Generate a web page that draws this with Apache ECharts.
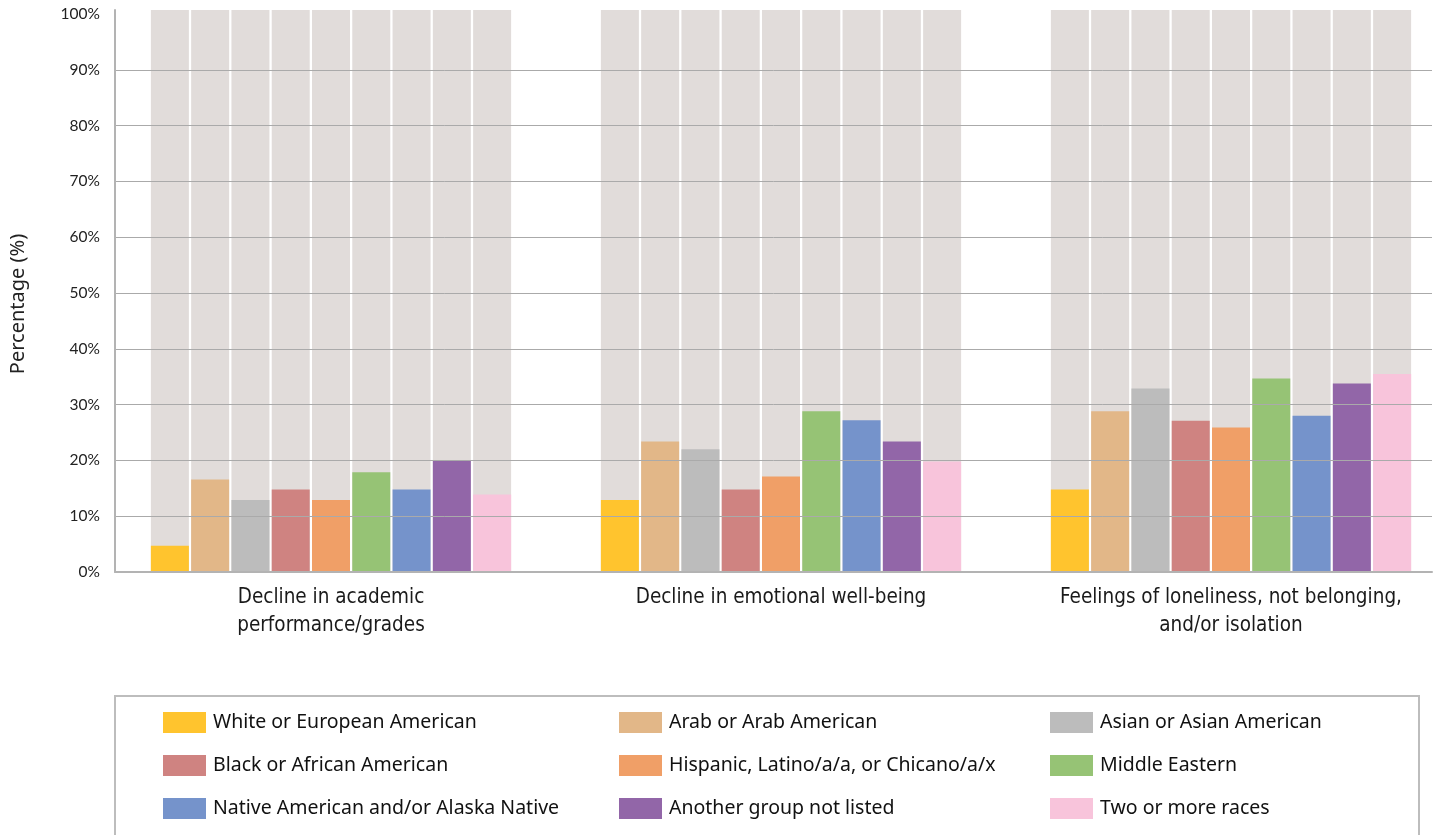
<!DOCTYPE html>
<html>
<head>
<meta charset="utf-8">
<title>Impacts by racial and ethnic identity</title>
<script src="https://cdn.jsdelivr.net/npm/echarts@6/dist/echarts.min.js"></script>
<style>
  html, body { margin: 0; padding: 0; background: #ffffff; }
  #chart { width: 1439px; height: 835px; }
</style>
</head>
<body>
<div id="chart"></div>
<script>
// Outcome categories along the x axis
const categories = [
  'Decline in academic\nperformance/grades',
  'Decline in emotional well-being',
  'Feelings of loneliness, not belonging,\nand/or isolation'
];

// Racial / ethnic groups (series order)
const groups = [
  'White or European American',
  'Arab or Arab American',
  'Asian or Asian American',
  'Black or African American',
  'Hispanic, Latino/a/a, or Chicano/a/x',
  'Middle Eastern',
  'Native American and/or Alaska Native',
  'Another group not listed',
  'Two or more races'
];

// Percentages per group, one value per category
const whiteValues    = [4.7, 12.9, 14.8];
const arabValues     = [16.6, 23.4, 28.8];
const asianValues    = [12.9, 22.0, 32.9];
const blackValues    = [14.8, 14.8, 27.1];
const hispanicValues = [12.9, 17.1, 25.9];
const middleEastValues = [17.9, 28.8, 34.7];
const nativeValues   = [14.8, 27.2, 28.0];
const anotherValues  = [20.0, 23.4, 33.8];
const twoPlusValues  = [13.9, 19.8, 35.5];

// Y axis ticks
const yTicks = [0, 10, 20, 30, 40, 50, 60, 70, 80, 90, 100];

const seriesValues = [
  whiteValues, arabValues, asianValues, blackValues, hispanicValues,
  middleEastValues, nativeValues, anotherValues, twoPlusValues
];

const colors = [
  '#FFC42E', '#E2B788', '#BCBCBC', '#CF8381', '#F09F67',
  '#96C375', '#7593CB', '#9266A8', '#F8C4DB'
];

const legendFont = { fontFamily: 'Noto Sans', fontSize: 19.5, color: '#111111', padding: [0, 0, 0, 2] };

function legendColumn(names, left) {
  return {
    data: names,
    orient: 'vertical',
    left: left,
    top: 712,
    padding: 0,
    itemWidth: 43,
    itemHeight: 21,
    itemGap: 22,
    icon: 'rect',
    selectedMode: false,
    textStyle: legendFont
  };
}

const chart = echarts.init(document.getElementById('chart'), null, { renderer: 'canvas' });

chart.setOption({
  animation: false,
  color: colors,
  grid: [
    // bars (category bands are 450px wide; the last band runs past the right edge)
    { left: 106, width: 1350, top: 10, height: 562, outerBoundsMode: 'none', containLabel: false },
    // gridlines and axis frame
    { left: 115, right: 7, top: 14, height: 558, outerBoundsMode: 'none', containLabel: false }
  ],
  xAxis: [
    {
      gridIndex: 0,
      type: 'category',
      data: categories,
      axisLine: { show: false },
      axisTick: { show: false },
      axisLabel: {
        margin: 12,
        interval: 0,
        fontFamily: "'DejaVu Sans Condensed', 'Liberation Sans Narrow', 'Roboto Condensed', Roboto, sans-serif",
        fontSize: 20.5,
        lineHeight: 28,
        color: '#1a1a1a',
        align: 'center'
      }
    },
    {
      gridIndex: 1,
      type: 'value',
      min: 0,
      max: 1,
      axisLine: { show: true, onZero: false, lineStyle: { color: '#b3b3b3', width: 2 } },
      axisTick: { show: false },
      axisLabel: { show: false },
      splitLine: { show: false },
      z: 11
    }
  ],
  yAxis: [
    {
      gridIndex: 0,
      type: 'value',
      min: 0,
      max: 100.75,
      offset: -9,
      axisLine: { show: true, lineStyle: { color: '#b3b3b3', width: 2 } },
      axisTick: { show: false },
      axisLabel: { show: false },
      splitLine: { show: false },
      z: 11
    },
    {
      gridIndex: 1,
      type: 'value',
      min: yTicks[0],
      max: yTicks[yTicks.length - 1],
      interval: 10,
      axisLine: { show: false },
      axisTick: { show: false },
      axisLabel: {
        margin: 15,
        fontFamily: 'Lato',
        fontSize: 15.5,
        color: '#222222',
        padding: [4, 0, 0, 0],
        formatter: v => v + '%'
      },
      splitLine: { show: true, showMaxLine: false, lineStyle: { color: '#aaaaaa', width: 1 } },
      z: 10
    }
  ],
  legend: [
    legendColumn([groups[0], groups[3], groups[6]], 163),
    legendColumn([groups[1], groups[4], groups[7]], 619),
    legendColumn([groups[2], groups[5], groups[8]], 1050)
  ],
  graphic: [
    {
      type: 'rect',
      shape: { x: 115, y: 696, width: 1304, height: 150 },
      style: { fill: 'none', stroke: '#bdbdbd', lineWidth: 2 },
      silent: true
    },
    {
      type: 'text',
      x: 18,
      y: 304,
      rotation: Math.PI / 2,
      style: {
        text: 'Percentage (%)',
        fontFamily: 'Noto Sans',
        fontSize: 20,
        fill: '#222222',
        align: 'center',
        verticalAlign: 'middle'
      },
      silent: true
    }
  ],
  series: groups.map((name, i) => ({
    name: name,
    type: 'bar',
    xAxisIndex: 0,
    yAxisIndex: 0,
    data: seriesValues[i],
    barWidth: 38,
    barGap: '6%',
    showBackground: true,
    backgroundStyle: { color: '#E1DCDA' },
    itemStyle: { color: colors[i] }
  }))
});
</script>
</body>
</html>
